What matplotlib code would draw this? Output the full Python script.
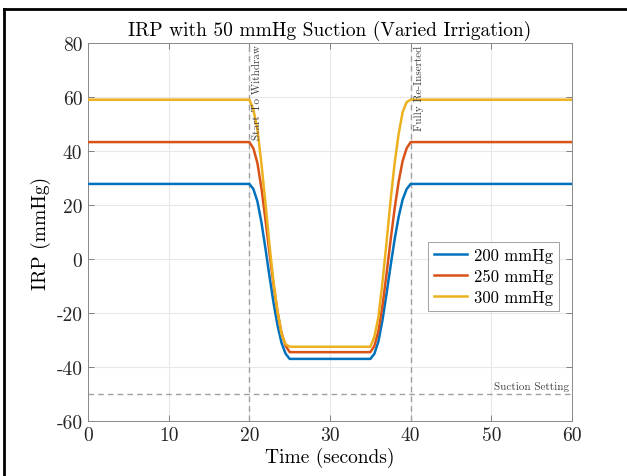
import matplotlib
matplotlib.use('Agg')
import matplotlib.pyplot as plt
from matplotlib.lines import Line2D

plt.rcParams['font.family'] = ['cmr10', 'DejaVu Serif']
plt.rcParams['mathtext.fontset'] = 'cm'
plt.rcParams['axes.unicode_minus'] = False

# time samples (s)
t = [0, 20, 20.5, 21, 21.5, 22, 22.5, 23, 23.5, 24, 24.5, 25,
     35, 35.5, 36, 36.5, 37, 37.5, 38, 38.5, 39, 39.5, 40, 60]

irp_200 = [27.8, 27.8, 25.9, 21.3, 13.5, 3.8, -6.5, -16.3, -24.7, -31.2, -35.1, -37.0,
           -37.0, -35.1, -30.5, -22.7, -13.0, -2.7, 7.1, 15.5, 22.0, 25.9, 27.8, 27.8]
irp_250 = [43.3, 43.3, 41.0, 35.5, 26.2, 14.5, 2.1, -9.6, -19.7, -27.5, -32.2, -34.5,
           -34.5, -32.2, -26.7, -17.4, -5.7, 6.7, 18.4, 28.5, 36.3, 41.0, 43.3, 43.3]
irp_300 = [59.0, 59.0, 55.3, 48.0, 35.2, 20.6, 5.0, -8.7, -19.7, -27.9, -31.6, -32.5,
           -32.5, -28.8, -21.5, -8.7, 5.9, 21.5, 35.2, 46.2, 54.4, 58.1, 59.0, 59.0]

labels = ['200 mmHg', '250 mmHg', '300 mmHg']
colors = ['#0072BD', '#D95319', '#EDB120']

t_withdraw = 20
t_inserted = 40
suction = -50

fig = plt.figure(figsize=(6.27, 4.77), dpi=100)
ax = fig.add_axes([0.1404, 0.1153, 0.7719, 0.7925])

for y, lab, c in zip([irp_200, irp_250, irp_300], labels, colors):
    ax.plot(t, y, color=c, lw=1.8, label=lab, zorder=3)

ax.axvline(t_withdraw, color='#a0a0a0', ls=(0, (4, 3)), lw=1, zorder=2)
ax.axvline(t_inserted, color='#a0a0a0', ls=(0, (4, 3)), lw=1, zorder=2)
ax.axhline(suction, color='#a0a0a0', ls=(0, (4, 3)), lw=1, zorder=2)

ax.text(t_withdraw + 0.35, 79.5, 'Start To Withdraw', rotation=90, va='top', ha='left',
        fontsize=8, color='#404040')
ax.text(t_inserted + 0.35, 79.5, 'Fully Re-Inserted', rotation=90, va='top', ha='left',
        fontsize=8, color='#404040')
ax.text(59.6, suction + 1.2, 'Suction Setting', ha='right', va='bottom',
        fontsize=8, color='#404040')

ax.set_xlim(0, 60)
ax.set_ylim(-60, 80)
ax.set_xticks(range(0, 61, 10))
ax.set_yticks(range(-60, 81, 20))
ax.set_yticklabels([str(v) for v in range(-60, 81, 20)])
ax.grid(True, color='#e8e8e8', lw=0.8, zorder=0)
ax.tick_params(direction='in', length=4, width=0.6, color='#707070', labelcolor='#262626',
               labelsize=14, top=True, right=True, pad=4)
for s in ax.spines.values():
    s.set_color('#8a8a8a')
    s.set_linewidth(0.7)

ax.set_xlabel('Time (seconds)', fontsize=14, labelpad=2)
ax.set_ylabel('IRP (mmHg)', fontsize=14, labelpad=4)
ax.set_title('IRP with 50 mmHg Suction (Varied Irrigation)', fontsize=14, pad=6)

leg = ax.legend(loc='upper right', bbox_to_anchor=(0.973, 0.474), fontsize=12,
                frameon=True, fancybox=False, handlelength=2.0, borderpad=0.35,
                labelspacing=0.35, handletextpad=0.4, borderaxespad=0)
leg.get_frame().set_edgecolor('#8a8a8a')
leg.get_frame().set_linewidth(0.7)

# page border from the document screenshot
fig.add_artist(Line2D([0.006, 1.0], [0.979, 0.979], color='black', lw=2, transform=fig.transFigure))
fig.add_artist(Line2D([0.006, 0.006], [0.0, 0.979], color='black', lw=2, transform=fig.transFigure))

fig.savefig('out.png', dpi=100)
